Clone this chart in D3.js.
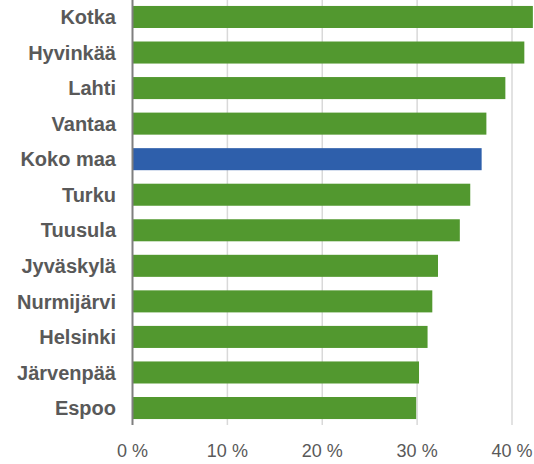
<!DOCTYPE html>
<html>
<head>
<meta charset="utf-8">
<script src="https://cdn.jsdelivr.net/npm/d3@7"></script>
<style>
  body { margin: 0; background: #fff; }
  svg text { font-family: "Liberation Sans", Arial, sans-serif; }
</style>
</head>
<body>
<div id="chart"></div>
<script>
const cities = ["Kotka", "Hyvinkää", "Lahti", "Vantaa", "Koko maa", "Turku",
  "Tuusula", "Jyväskylä", "Nurmijärvi", "Helsinki", "Järvenpää", "Espoo"];
const shares = [42.2, 41.3, 39.3, 37.3, 36.8, 35.6, 34.5, 32.2, 31.6, 31.1, 30.2, 29.9];
const ticks = [0, 10, 20, 30, 40];
const highlight = "Koko maa";

const width = 534, height = 464;
const data = cities.map((c, i) => ({ city: c, value: shares[i] }));

const svg = d3.select("#chart").append("svg")
  .attr("width", width).attr("height", height);

// 0 % sits at ~132px, 40 % at ~512px
const x = d3.scaleLinear().domain([0, 40]).range([132.5, 512]);
const y = d3.scaleBand().domain(cities).range([-0.8, 425.8])
  .paddingInner(0.38).paddingOuter(0.19);

// gridlines
svg.append("g")
  .selectAll("line")
  .data(ticks.slice(1))
  .enter().append("line")
  .attr("x1", d => x(d)).attr("x2", d => x(d))
  .attr("y1", 0).attr("y2", 425)
  .attr("stroke", "#d9d9d9").attr("stroke-width", 1.5);

// bars
svg.append("g")
  .selectAll("rect")
  .data(data)
  .enter().append("rect")
  .attr("x", x(0))
  .attr("y", d => y(d.city))
  .attr("width", d => x(d.value) - x(0))
  .attr("height", y.bandwidth())
  .attr("fill", d => d.city === highlight ? "#2e5fab" : "#52982f");

// y axis line
svg.append("line")
  .attr("x1", x(0)).attr("x2", x(0))
  .attr("y1", 0).attr("y2", 425)
  .attr("stroke", "#7f7f7f").attr("stroke-width", 2);

// category labels
svg.append("g")
  .selectAll("text")
  .data(cities)
  .enter().append("text")
  .attr("x", 116)
  .attr("y", d => y(d) + y.bandwidth() / 2)
  .attr("dy", "0.36em")
  .attr("text-anchor", "end")
  .attr("font-size", 20)
  .attr("font-weight", "bold")
  .attr("fill", "#595959")
  .text(d => d);

// x tick labels
svg.append("g")
  .selectAll("text")
  .data(ticks)
  .enter().append("text")
  .attr("x", d => x(d))
  .attr("y", 457)
  .attr("text-anchor", "middle")
  .attr("font-size", 18)
  .attr("fill", "#595959")
  .text(d => d + " %");
</script>
</body>
</html>
